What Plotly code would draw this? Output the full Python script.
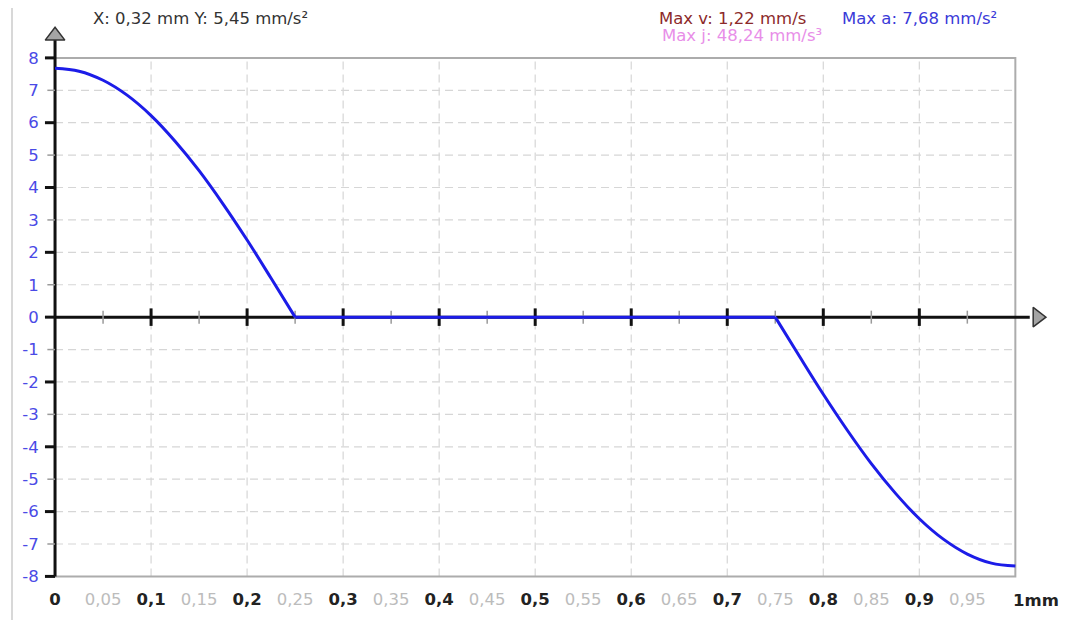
import plotly.graph_objects as go

# acceleration profile (mm, mm/s²)
ACC_X = [0, 0.025, 0.05, 0.075, 0.1, 0.125, 0.15, 0.175, 0.2, 0.225, 0.25,
         0.75, 0.775, 0.8, 0.825, 0.85, 0.875, 0.9, 0.925, 0.95, 0.975, 1.0]
ACC_Y = [7.68, 7.59, 7.31, 6.85, 6.22, 5.43, 4.52, 3.49, 2.38, 1.20, 0.0,
         0.0, -1.20, -2.38, -3.49, -4.52, -5.43, -6.22, -6.85, -7.31, -7.59, -7.68]

X_MAJOR = [0.1, 0.2, 0.3, 0.4, 0.5, 0.6, 0.7, 0.8, 0.9]
X_MINOR = [0.05, 0.15, 0.25, 0.35, 0.45, 0.55, 0.65, 0.75, 0.85, 0.95]
X_LABEL_VALS = [0, 0.05, 0.1, 0.15, 0.2, 0.25, 0.3, 0.35, 0.4, 0.45, 0.5,
                0.55, 0.6, 0.65, 0.7, 0.75, 0.8, 0.85, 0.9, 0.95]
X_LABEL_TEXT = ["0", "0,05", "0,1", "0,15", "0,2", "0,25", "0,3", "0,35", "0,4", "0,45", "0,5",
                "0,55", "0,6", "0,65", "0,7", "0,75", "0,8", "0,85", "0,9", "0,95"]
X_END_LABEL = "1mm"
Y_VALS = [-8, -7, -6, -5, -4, -3, -2, -1, 0, 1, 2, 3, 4, 5, 6, 7, 8]
Y_MAJOR = [-8, -6, -4, -2, 0, 2, 4, 6, 8]
Y_MINOR = [-7, -5, -3, -1, 1, 3, 5, 7]

CURSOR_TEXT = "X: 0,32 mm Y: 5,45 mm/s²"
MAX_V = "Max v: 1,22 mm/s"
MAX_A = "Max a: 7,68 mm/s²"
MAX_J = "Max j: 48,24 mm/s³"

FONT = "DejaVu Sans"
FS = 16.5
TICK_FS = 16.5
BLUE = "#1c1ce8"


def segs(pairs):
    xs, ys = [], []
    for (x0, y0), (x1, y1) in pairs:
        xs += [x0, x1, None]
        ys += [y0, y1, None]
    return xs, ys


fig = go.Figure()

# dashed grid inside the frame
gx, gy = segs([((v, -8), (v, 8)) for v in X_MAJOR] +
              [((0, v), (1, v)) for v in Y_VALS if v not in (-8, 0, 8)])
fig.add_trace(go.Scatter(x=gx, y=gy, mode="lines", hoverinfo="skip",
                         line=dict(color="#d6d6d6", width=1.2, dash="8px,5px")))

# gray frame (top, right, bottom)
fig.add_trace(go.Scatter(x=[0, 1, 1, 0], y=[8, 8, -8, -8], mode="lines", hoverinfo="skip",
                         line=dict(color="#acacac", width=2)))

# axes
ax_x, ax_y = segs([((0, -8), (0, 8.55)), ((0, 0), (1.015, 0))])
fig.add_trace(go.Scatter(x=ax_x, y=ax_y, mode="lines", hoverinfo="skip",
                         line=dict(color="#111111", width=3)))

# tick marks on the axes
tx, ty = segs([((v, -0.27), (v, 0.27)) for v in X_MAJOR] +
              [((-0.0105, v), (0, v)) for v in Y_MAJOR])
fig.add_trace(go.Scatter(x=tx, y=ty, mode="lines", hoverinfo="skip",
                         line=dict(color="#111111", width=3)))
mx, my = segs([((v, -0.2), (v, 0.2)) for v in X_MINOR] +
              [((-0.008, v), (0, v)) for v in Y_MINOR])
fig.add_trace(go.Scatter(x=mx, y=my, mode="lines", hoverinfo="skip",
                         line=dict(color="#9a9a9a", width=1.5)))

# arrow heads
fig.add_trace(go.Scatter(x=[0, 1.023], y=[8.68, 0], mode="markers", hoverinfo="skip",
                         cliponaxis=False,
                         marker=dict(symbol=["triangle-up", "triangle-right"], size=17,
                                     color="#a4a4a4", line=dict(color="#333333", width=1.5))))

# acceleration curve: rising part, flat part, falling part
for a, b, shape in [(0, 11, "spline"), (10, 12, "linear"), (11, 22, "spline")]:
    fig.add_trace(go.Scatter(x=ACC_X[a:b], y=ACC_Y[a:b], mode="lines", hoverinfo="skip",
                             line=dict(color=BLUE, width=3, shape=shape)))

x_text = []
for v, t in zip(X_LABEL_VALS, X_LABEL_TEXT):
    if v in X_MINOR:
        x_text.append(f'<span style="color:#bcbcbc">{t}</span>')
    else:
        x_text.append(f"<b>{t}</b>")


def note(text, x, y, color):
    return dict(text=text, xref="paper", yref="paper", x=x, y=y,
                xanchor="left", yanchor="middle", showarrow=False,
                font=dict(family=FONT, size=FS, color=color))


# the page body adds 8px on the left and top, so the figure is 8px smaller
fig.update_layout(
    width=1069, height=612,
    margin=dict(l=36, r=29, t=11, b=35),
    paper_bgcolor="white", plot_bgcolor="white",
    showlegend=False,
    font=dict(family=FONT, size=FS, color="#333333"),
    xaxis=dict(range=[-0.0115, 1.034], showgrid=False, zeroline=False, showline=False,
               tickmode="array", tickvals=X_LABEL_VALS, ticktext=x_text,
               ticks="outside", ticklen=5, tickcolor="rgba(0,0,0,0)",
               tickfont=dict(family=FONT, size=TICK_FS, color="#222222"), tickangle=0),
    yaxis=dict(range=[-8.08, 9.2], showgrid=False, zeroline=False, showline=False,
               tickmode="array", tickvals=Y_VALS, ticktext=[str(v) for v in Y_VALS],
               ticks="outside", ticklen=1, tickcolor="rgba(0,0,0,0)",
               tickfont=dict(family=FONT, size=TICK_FS, color="#4a4ae6")),
    shapes=[
        dict(type="line", xref="paper", yref="paper", xsizemode="pixel", xanchor=0,
             x0=-32, x1=-32, y0=-0.1, y1=1.1, line=dict(color="#d8d8d8", width=2)),
        dict(type="line", xref="paper", yref="paper", xsizemode="pixel", xanchor=1,
             x0=22, x1=22, y0=-0.1, y1=1.1, line=dict(color="#e4e4e4", width=2)),
    ],
    annotations=[
        note(CURSOR_TEXT, 0.0468, 1.001, "#333333"),
        note(MAX_V, 0.6107, 1.001, "#8c2a2a"),
        note(MAX_A, 0.793, 1.001, "#3a3ad8"),
        note(MAX_J, 0.6137, 0.971, "#e88ee8"),
        dict(text=f"<b>{X_END_LABEL}</b>", xref="x", yref="paper", x=1.0, y=-0.017,
             xanchor="left", yanchor="top", xshift=-4, showarrow=False,
             font=dict(family=FONT, size=TICK_FS, color="#222222")),
    ],
)

fig.write_html("out.html")
